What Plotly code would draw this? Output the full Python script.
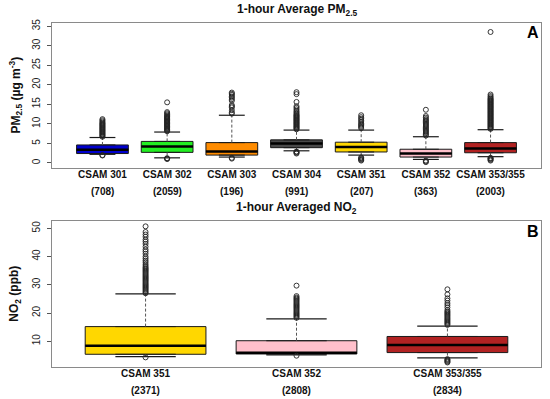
import plotly.graph_objects as go

# ---------------- Panel A: 1-hour average PM2.5 ----------------
pm_sites = ["CSAM 301", "CSAM 302", "CSAM 303", "CSAM 304", "CSAM 351", "CSAM 352", "CSAM 353/355"]
pm_counts = ["(708)", "(2059)", "(196)", "(991)", "(207)", "(363)", "(2003)"]
pm_colors = ["#0000CD", "#22EE22", "#FF8C00", "#4A4A4A", "#FFD700", "#FFC0CB", "#B22222"]
pm_q1 = [2.4, 2.7, 2.0, 3.9, 2.8, 1.5, 2.6]
pm_median = [3.4, 4.2, 2.9, 5.0, 4.1, 2.4, 3.7]
pm_q3 = [4.6, 5.5, 5.2, 5.9, 5.3, 3.5, 5.2]
pm_low_whisker = [2.2, 1.3, 1.5, 3.1, 2.0, 0.9, 1.6]
pm_high_whisker = [6.5, 7.9, 12.2, 8.4, 8.4, 6.7, 8.5]
pm_outliers = [
    [1.9, 2.0, 6.7, 6.9, 7.1, 7.3, 7.5, 7.7, 7.9, 8.1, 8.3, 8.5, 8.7, 8.9, 9.1, 9.3, 9.5, 9.7,
     9.9, 10.1, 10.3, 10.6, 10.9, 11.2],
    [1.0, 1.1, 1.2, 8.1, 8.3, 8.5, 8.7, 8.9, 9.1, 9.3, 9.5, 9.7, 9.9, 10.1, 10.3, 10.5, 10.7,
     10.9, 11.1, 11.3, 11.5, 11.7, 11.9, 12.1, 12.4, 12.7, 13.0, 15.5],
    [1.1, 1.3, 12.6, 12.9, 13.5, 14.2, 14.5, 14.8, 15.9, 16.3, 16.7, 17.0, 17.4, 17.7, 18.0],
    [2.4, 2.6, 2.8, 2.9, 8.6, 8.8, 9.0, 9.2, 9.4, 9.6, 9.8, 10.0, 10.2, 10.4, 10.6, 10.8,
     11.0, 11.2, 11.4, 11.6, 11.8, 12.0, 12.2, 12.4, 12.7, 13.0, 13.3, 13.7, 14.1, 14.5,
     15.6, 17.6, 18.1],
    [0.6, 0.8, 1.0, 1.2, 1.4, 8.9, 9.2, 9.5, 9.8, 10.1, 10.5, 10.9, 11.3, 11.7, 12.2],
    [0.2, 0.4, 0.6, 7.0, 7.3, 7.6, 7.9, 8.2, 8.5, 8.8, 9.1, 9.4, 9.7, 10.0, 10.3, 10.6,
     10.9, 11.2, 11.6, 12.0, 13.6],
    [0.6, 0.8, 1.0, 1.2, 1.3, 8.7, 8.9, 9.1, 9.3, 9.5, 9.7, 9.9, 10.1, 10.3, 10.5, 10.7,
     10.9, 11.1, 11.3, 11.5, 11.7, 11.9, 12.1, 12.3, 12.5, 12.7, 12.9, 13.1, 13.3, 13.5,
     13.7, 13.9, 14.1, 14.3, 14.5, 14.7, 14.9, 15.1, 15.3, 15.5, 15.7, 15.9, 16.1, 16.3,
     16.5, 16.8, 17.1, 17.5, 33.5],
]
pm_ticks = [0, 5, 10, 15, 20, 25, 30, 35]

# ---------------- Panel B: 1-hour averaged NO2 ----------------
no2_sites = ["CSAM 351", "CSAM 352", "CSAM 353/355"]
no2_counts = ["(2371)", "(2808)", "(2834)"]
no2_colors = ["#FFD700", "#FFC0CB", "#B22222"]
no2_q1 = [5.4, 5.5, 6.0]
no2_median = [8.4, 5.9, 8.7]
no2_q3 = [15.2, 10.2, 11.7]
no2_low_whisker = [4.6, 5.2, 4.1]
no2_high_whisker = [26.8, 17.9, 15.4]
no2_outliers = [
    [4.3, 27.0, 27.4, 27.8, 28.2, 28.6, 29.0, 29.4, 29.8, 30.2, 30.6, 31.0, 31.4, 31.8, 32.2,
     32.6, 33.0, 33.4, 33.8, 34.2, 34.6, 35.0, 35.4, 35.8, 36.2, 36.7, 37.3, 38.0, 38.6,
     39.3, 40.0, 41.0, 41.8, 42.5, 43.5, 44.5, 45.3, 46.0, 47.0, 47.8, 48.7, 50.7],
    [4.9, 18.3, 18.7, 19.1, 19.5, 19.9, 20.3, 20.7, 21.1, 21.5, 21.9, 22.3, 22.7, 23.1,
     23.5, 23.9, 24.3, 24.7, 25.1, 25.5, 26.0, 29.7],
    [2.5, 2.8, 3.1, 3.4, 3.7, 15.8, 16.2, 16.6, 17.0, 17.4, 17.8, 18.2, 18.6, 19.0, 19.4,
     19.8, 20.2, 20.6, 21.1, 22.0, 22.8, 23.5, 24.4, 25.2, 26.6, 28.4],
]
no2_ticks = [10, 20, 30, 40, 50]

FONT = "Arial, Liberation Sans, sans-serif"
BOX_W = 0.8

fig = go.Figure()


def add_panel(fig, xa, ya, colors, q1, med, q3, lw, uw, outl):
    pos = list(range(1, len(q1) + 1))
    for i, p in enumerate(pos):
        fig.add_trace(go.Box(
            x=[p], q1=[q1[i]], median=[med[i]], q3=[q3[i]],
            lowerfence=[q1[i]], upperfence=[q3[i]],
            width=BOX_W, fillcolor=colors[i],
            line=dict(color="#1a1a1a", width=1),
            boxpoints=False, xaxis=xa, yaxis=ya, showlegend=False,
        ))
    # dashed whiskers
    wx, wy = [], []
    for i, p in enumerate(pos):
        wx += [p, p, None, p, p, None]
        wy += [q3[i], uw[i], None, q1[i], lw[i], None]
    fig.add_trace(go.Scatter(x=wx, y=wy, mode="lines",
                             line=dict(color="#555555", width=1, dash="3px,2px"),
                             xaxis=xa, yaxis=ya, showlegend=False, hoverinfo="skip"))
    # staples
    sx, sy = [], []
    for i, p in enumerate(pos):
        sx += [p - BOX_W / 4, p + BOX_W / 4, None, p - BOX_W / 4, p + BOX_W / 4, None]
        sy += [uw[i], uw[i], None, lw[i], lw[i], None]
    fig.add_trace(go.Scatter(x=sx, y=sy, mode="lines",
                             line=dict(color="#1a1a1a", width=1.2),
                             xaxis=xa, yaxis=ya, showlegend=False, hoverinfo="skip"))
    # medians
    mx, my = [], []
    for i, p in enumerate(pos):
        mx += [p - BOX_W / 2, p + BOX_W / 2, None]
        my += [med[i], med[i], None]
    fig.add_trace(go.Scatter(x=mx, y=my, mode="lines",
                             line=dict(color="#000000", width=2.5),
                             xaxis=xa, yaxis=ya, showlegend=False, hoverinfo="skip"))
    # outliers
    ox, oy = [], []
    for i, p in enumerate(pos):
        ox += [p] * len(outl[i])
        oy += outl[i]
    fig.add_trace(go.Scatter(x=ox, y=oy, mode="markers",
                             marker=dict(symbol="circle-open", size=5,
                                         color="#222222", line=dict(width=0.9)),
                             xaxis=xa, yaxis=ya, showlegend=False))
    return pos


pos_a = add_panel(fig, "x", "y", pm_colors, pm_q1, pm_median, pm_q3,
                  pm_low_whisker, pm_high_whisker, pm_outliers)
pos_b = add_panel(fig, "x2", "y2", no2_colors, no2_q1, no2_median, no2_q3,
                  no2_low_whisker, no2_high_whisker, no2_outliers)

XD = [52 / 550, 541 / 550]
YA = [1 - 168 / 399, 1 - 23 / 399]
YB = [1 - 366.7 / 399, 1 - 220.7 / 399]

axis_common = dict(showline=True, mirror=True, linecolor="#8a8a8a", linewidth=1,
                   showgrid=False, zeroline=False, automargin=False)
xfont = dict(family=FONT, size=10, color="#111111", weight="bold")
yfont = dict(family=FONT, size=10, color="#222222")

fig.update_layout(
    width=550, height=399,
    margin=dict(l=0, r=0, t=0, b=0, pad=0, autoexpand=False),
    paper_bgcolor="white", plot_bgcolor="white",
    font=dict(family=FONT),
    xaxis=dict(domain=XD, anchor="y", range=[0.22, len(pm_sites) + 0.78],
               tickmode="array", tickvals=pos_a,
               ticktext=["<b>%s</b>" % s for s in pm_sites], ticks="",
               ticklabelstandoff=-3, tickfont=xfont, **axis_common),
    yaxis=dict(domain=YA, anchor="x", range=[-1.3, 35.8], tickmode="array",
               tickvals=pm_ticks, ticks="outside", ticklen=4, tickcolor="#555",
               ticklabelstandoff=3, tickangle=-90, tickfont=yfont, **axis_common),
    xaxis2=dict(domain=XD, anchor="y2", range=[0.38, len(no2_sites) + 0.62],
                tickmode="array", tickvals=pos_b,
                ticktext=["<b>%s</b>" % s for s in no2_sites], ticks="",
                ticklabelstandoff=-3, tickfont=xfont, **axis_common),
    yaxis2=dict(domain=YB, anchor="x2", range=[1.0, 52.7], tickmode="array",
                tickvals=no2_ticks, ticks="outside", ticklen=4, tickcolor="#555",
                ticklabelstandoff=3, tickangle=-90, tickfont=yfont, **axis_common),
)

ann = []
xc = (XD[0] + XD[1]) / 2
common = dict(xanchor="center", yanchor="middle", showarrow=False)


def a(**kw):
    d = dict(common)
    d.update(kw)
    ann.append(d)


a(text="<b>1-hour Average PM<sub>2.5</sub></b>", x=xc, y=1 - 10 / 399,
  xref="paper", yref="paper", font=dict(family=FONT, size=12, color="#111"))
a(text="<b>1-hour Averaged NO<sub>2</sub></b>", x=xc, y=1 - 208 / 399,
  xref="paper", yref="paper", font=dict(family=FONT, size=12, color="#111"))
a(text="<b>A</b>", x=533 / 550, y=1 - 32 / 399,
  xref="paper", yref="paper", font=dict(family=FONT, size=16, color="#000"))
a(text="<b>B</b>", x=533 / 550, y=1 - 231 / 399,
  xref="paper", yref="paper", font=dict(family=FONT, size=16, color="#000"))
a(text="<b>PM<sub>2.5</sub> (µg m<sup>-3</sup>)</b>", x=15 / 550,
  y=(YA[0] + YA[1]) / 2, textangle=-90, xref="paper", yref="paper",
  font=dict(family=FONT, size=12, color="#111"))
a(text="<b>NO<sub>2</sub> (ppb)</b>", x=15 / 550,
  y=(YB[0] + YB[1]) / 2, textangle=-90, xref="paper", yref="paper",
  font=dict(family=FONT, size=12, color="#111"))
for p, c in zip(pos_a, pm_counts):
    a(text="<b>%s</b>" % c, x=p, xref="x", y=1 - 191 / 399, yref="paper",
      font=dict(family=FONT, size=10, color="#111"))
for p, c in zip(pos_b, no2_counts):
    a(text="<b>%s</b>" % c, x=p, xref="x2", y=1 - 390 / 399, yref="paper",
      font=dict(family=FONT, size=10, color="#111"))
fig.update_layout(annotations=ann)

fig.write_html("out.html", config={"displayModeBar": False},
               post_script="document.body.style.margin='0';document.body.style.overflow='hidden';")
